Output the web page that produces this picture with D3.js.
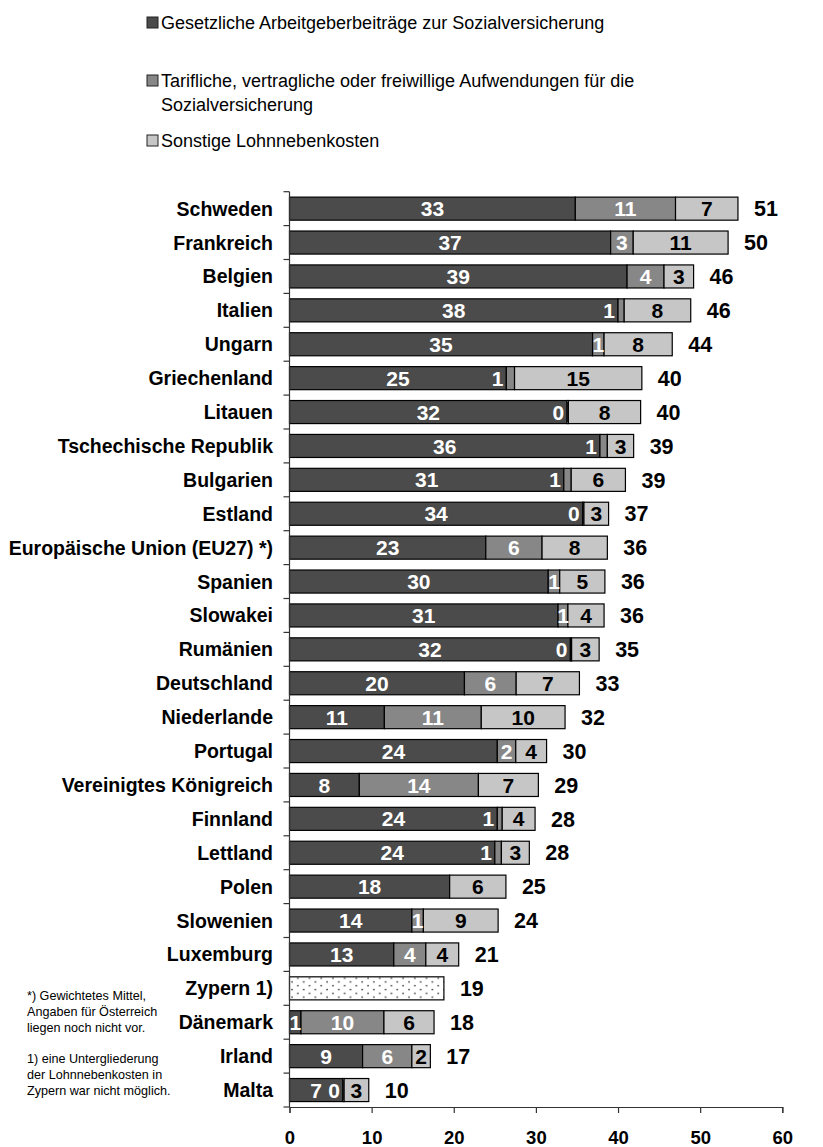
<!DOCTYPE html>
<html>
<head>
<meta charset="utf-8">
<script src="https://cdn.jsdelivr.net/npm/d3@7"></script>
<style>
  html, body { margin: 0; padding: 0; background: #fff; }
  svg { display: block; font-family: "Liberation Sans", Arial, sans-serif; }
</style>
</head>
<body>
<svg id="chart" width="823" height="1147"></svg>
<script>
// ---------- DATA ----------
const categories = ["Schweden","Frankreich","Belgien","Italien","Ungarn","Griechenland","Litauen",
  "Tschechische Republik","Bulgarien","Estland","Europäische Union (EU27) *)","Spanien","Slowakei",
  "Rumänien","Deutschland","Niederlande","Portugal","Vereinigtes Königreich","Finnland","Lettland",
  "Polen","Slowenien","Luxemburg","Zypern 1)","Dänemark","Irland","Malta"];

// bar segment lengths as drawn in the picture (axis units)
const gesetzlich = [34.8,39.1,41.1,40.0,36.9,26.4,33.8,37.8,33.4,35.7,23.9,31.5,32.7,34.2,21.3,11.55,25.3,8.5,25.3,25.0,19.5,14.9,12.7,0,1.4,8.9,6.5];
const tariflich  = [12.2,2.75,4.5,0.75,1.4,1.0,0.15,0.9,0.9,0.15,6.85,1.4,1.2,0.15,6.3,11.8,2.25,14.5,0.6,0.8,0,1.4,3.9,0,10.1,6.0,0.15];
const sonstige   = [7.6,11.55,3.6,8.1,8.3,15.5,8.8,3.2,6.6,3.0,7.95,5.5,4.4,3.35,7.7,10.2,3.75,7.3,4.0,3.4,6.85,9.1,4.0,0,6.1,2.25,3.0];
const ohneGliederung = [0,0,0,0,0,0,0,0,0,0,0,0,0,0,0,0,0,0,0,0,0,0,0,18.8,0,0,0];

// printed value labels
const labelGesetzlich = [33,37,39,38,35,25,32,36,31,34,23,30,31,32,20,11,24,8,24,24,18,14,13,null,1,9,7];
const labelTariflich  = [11,3,4,1,1,1,0,1,1,0,6,1,1,0,6,11,2,14,1,1,null,1,4,null,10,6,0];
const labelSonstige   = [7,11,3,8,8,15,8,3,6,3,8,5,4,3,7,10,4,7,4,3,6,9,4,null,6,2,3];
const totals          = [51,50,46,46,44,40,40,39,39,37,36,36,36,35,33,32,30,29,28,28,25,24,21,19,18,17,10];

const xTicks = [0,10,20,30,40,50,60];

const legendItems = [
  ["Gesetzliche Arbeitgeberbeiträge zur Sozialversicherung"],
  ["Tarifliche, vertragliche oder freiwillige Aufwendungen für die", "Sozialversicherung"],
  ["Sonstige Lohnnebenkosten"]
];
const footnotes = [
  ["*) Gewichtetes Mittel,", "Angaben für Österreich", "liegen noch nicht vor."],
  ["1) eine Untergliederung", "der Lohnnebenkosten in", "Zypern war nicht möglich."]
];

// ---------- STYLE ----------
const colors = ["#4b4b4b", "#878787", "#c6c6c6"];
const textColors = ["#ffffff", "#ffffff", "#000000"];

const svg = d3.select("#chart");
const defs = svg.append("defs");
const pat = defs.append("pattern").attr("id","dots").attr("patternUnits","userSpaceOnUse")
  .attr("width", 11.7).attr("height", 7.6).attr("x", 289).attr("y", 0);
pat.append("rect").attr("width",11.7).attr("height",7.6).attr("fill","#fff");
pat.append("circle").attr("cx", 3).attr("cy", 1.5).attr("r", 0.8).attr("fill","#222");
pat.append("circle").attr("cx", 8.85).attr("cy", 5.3).attr("r", 0.8).attr("fill","#222");

const x = d3.scaleLinear().domain([0,60]).range([289.5, 782.3]);
const y = d3.scaleBand().domain(categories).range([191.7, 1107]).paddingInner(0.32).paddingOuter(0.16);

const series = [gesetzlich, tariflich, sonstige];
const labels = [labelGesetzlich, labelTariflich, labelSonstige];

const rows = categories.map((c, i) => {
  let acc = 0;
  const segs = series.map((s, k) => {
    const seg = {k, x0: acc, x1: acc + s[i], label: labels[k][i], cat: c};
    acc += s[i];
    return seg;
  });
  return {cat: c, segs, end: acc + ohneGliederung[i], plain: ohneGliederung[i], total: totals[i]};
});

const gBars = svg.append("g");
rows.forEach(r => {
  const g = gBars.append("g");
  if (r.plain > 0) {
    g.append("rect").attr("x", x(0)).attr("y", y(r.cat))
      .attr("width", x(r.plain) - x(0)).attr("height", y.bandwidth())
      .attr("fill", "url(#dots)").attr("stroke", "#000").attr("stroke-width", 1.2);
  }
  r.segs.filter(s => s.x1 > s.x0).forEach(s => {
    g.append("rect").attr("x", x(s.x0)).attr("y", y(r.cat))
      .attr("width", x(s.x1) - x(s.x0)).attr("height", y.bandwidth())
      .attr("fill", colors[s.k]).attr("stroke", "#000").attr("stroke-width", 1.2);
  });
  r.segs.filter(s => s.label !== null).forEach(s => {
    const w = x(s.x1) - x(s.x0);
    const cy = y(r.cat) + y.bandwidth() / 2;
    const t = g.append("text").attr("y", cy).attr("dy", "0.36em")
      .attr("font-size", 21).attr("font-weight", "bold").attr("fill", textColors[s.k]).text(s.label);
    if (w < 9) {
      t.attr("x", x(s.x0) - 3).attr("text-anchor", "end").attr("fill", "#ffffff");
    } else {
      t.attr("x", (x(s.x0) + x(s.x1)) / 2).attr("text-anchor", "middle");
    }
  });
  g.append("text").attr("x", x(r.end) + 16).attr("y", y(r.cat) + y.bandwidth() / 2)
    .attr("dy", "0.36em").attr("font-size", 21.5).attr("font-weight", "bold")
    .attr("fill", "#000").text(r.total);
});

// category labels
svg.append("g").selectAll("text").data(categories).join("text")
  .attr("x", 273).attr("y", d => y(d) + y.bandwidth() / 2).attr("dy", "0.36em")
  .attr("text-anchor", "end").attr("font-size", 19.5).attr("font-weight", "bold")
  .attr("fill", "#000").text(d => d);

// vertical axis with boundary ticks
const axisCol = "#333";
const yTop = y.range()[0], yBot = y.range()[1];
svg.append("line").attr("x1", x(0)).attr("x2", x(0)).attr("y1", yTop).attr("y2", yBot)
  .attr("stroke", axisCol).attr("stroke-width", 1.2);
const bounds = d3.range(categories.length + 1).map(i => yTop + i * y.step());
svg.append("g").selectAll("line").data(bounds).join("line")
  .attr("x1", x(0) - 6).attr("x2", x(0)).attr("y1", d => d).attr("y2", d => d)
  .attr("stroke", axisCol).attr("stroke-width", 1.2);

// x axis
const xAxis = svg.append("g").attr("transform", `translate(0,${yBot})`)
  .call(d3.axisBottom(x).tickValues(xTicks).tickSize(6).tickPadding(18).tickFormat(d3.format("d")));
xAxis.select(".domain").attr("stroke", axisCol).attr("stroke-width", 1.2);
xAxis.selectAll(".tick line").attr("stroke", axisCol).attr("stroke-width", 1.2);
xAxis.selectAll(".tick text").attr("font-size", 18.5).attr("font-weight", "bold")
  .attr("font-family", "Liberation Sans, Arial, sans-serif").attr("fill", "#000");

// legend
const legendY = [23, 81, 141];
legendItems.forEach((lines, i) => {
  const cy = legendY[i];
  svg.append("rect").attr("x", 147).attr("y", cy - 6).attr("width", 11).attr("height", 11)
    .attr("fill", colors[i]).attr("stroke", "#222").attr("stroke-width", 1);
  lines.forEach((ln, j) => {
    svg.append("text").attr("x", 161).attr("y", cy + j * 24).attr("dy", "0.36em")
      .attr("font-size", 18).attr("fill", "#000").text(ln);
  });
});

// footnotes
const footY = [995, 1058];
footnotes.forEach((block, i) => {
  block.forEach((ln, j) => {
    svg.append("text").attr("x", 27).attr("y", footY[i] + j * 16).attr("dy", "0.36em")
      .attr("font-size", 12.6).attr("fill", "#000").text(ln);
  });
});
</script>
</body>
</html>
